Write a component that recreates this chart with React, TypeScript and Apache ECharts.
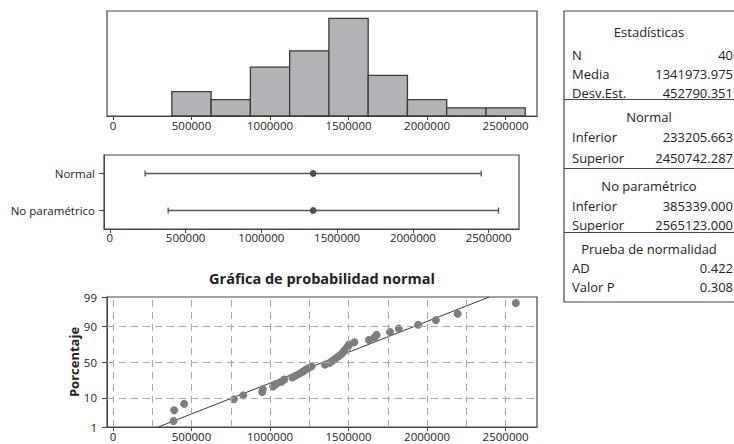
import React, { useEffect, useRef } from "react";
import * as echarts from "echarts";

// ---------- data ----------
const histBinCenters = [500000, 750000, 1000000, 1250000, 1500000, 1750000, 2000000, 2250000, 2500000];
const histCounts = [3, 2, 6, 8, 12, 5, 2, 1, 1];
const histBinWidth = 250000;

const xTickValues = [0, 500000, 1000000, 1500000, 2000000, 2500000];
const xGridValues = [0, 250000, 500000, 750000, 1000000, 1250000, 1500000, 1750000, 2000000, 2250000, 2500000];

const intervalCategories = ["Normal", "No paramétrico"];
const intervalLower = [233205.663, 385339.0];
const intervalUpper = [2450742.287, 2565123.0];
const intervalCenter = [1341973.975, 1341973.975];

const sampleValues = [
  385339, 390000, 453000, 770000, 829000, 950000, 955000, 1019000, 1040000, 1072000,
  1090000, 1142000, 1165000, 1188000, 1209000, 1225000, 1245000, 1265000, 1350000, 1380000,
  1395000, 1410000, 1425000, 1440000, 1455000, 1465000, 1475000, 1485000, 1495000, 1503000,
  1537000, 1630000, 1664000, 1679000, 1764000, 1820000, 1944000, 2056000, 2195000, 2565123,
];
const fitMean = 1341973.975;
const fitStdDev = 452790.351;
const percentTicks = [1, 10, 50, 90, 99];
const percentGrid = [10, 50, 90];

const probTitle = "Gráfica de probabilidad normal";
const probYName = "Porcentaje";

const tableHeaders = ["Estadísticas", "Normal", "No paramétrico", "Prueba de normalidad"];
const tableLabels = [
  ["N", "Media", "Desv.Est."],
  ["Inferior", "Superior"],
  ["Inferior", "Superior"],
  ["AD", "Valor P"],
];
const tableValues = [
  ["40", "1341973.975", "452790.351"],
  ["233205.663", "2450742.287"],
  ["385339.000", "2565123.000"],
  ["0.422", "0.308"],
];

// ---------- helpers ----------
function probit(p: number): number {
  const a = [-39.69683028665376, 220.9460984245205, -275.9285104469687, 138.357751867269, -30.66479806614716, 2.506628277459239];
  const b = [-54.47609879822406, 161.5858368580409, -155.6989798598866, 66.80131188771972, -13.28068155288572];
  const c = [-0.007784894002430293, -0.3223964580411365, -2.400758277161838, -2.549732539343734, 4.374664141464968, 2.938163982698783];
  const d = [0.007784695709041462, 0.3224671290700398, 2.445134137142996, 3.754408661907416];
  const plow = 0.02425;
  const phigh = 1 - plow;
  if (p < plow) {
    const q = Math.sqrt(-2 * Math.log(p));
    return (((((c[0] * q + c[1]) * q + c[2]) * q + c[3]) * q + c[4]) * q + c[5]) / ((((d[0] * q + d[1]) * q + d[2]) * q + d[3]) * q + 1);
  }
  if (p > phigh) {
    const q = Math.sqrt(-2 * Math.log(1 - p));
    return -(((((c[0] * q + c[1]) * q + c[2]) * q + c[3]) * q + c[4]) * q + c[5]) / ((((d[0] * q + d[1]) * q + d[2]) * q + d[3]) * q + 1);
  }
  const q = p - 0.5;
  const r = q * q;
  return ((((((a[0] * r + a[1]) * r + a[2]) * r + a[3]) * r + a[4]) * r + a[5]) * q) / (((((b[0] * r + b[1]) * r + b[2]) * r + b[3]) * r + b[4]) * r + 1);
}

const FONT = "Open Sans";
const AXIS_COLOR = "#454545";
const LABEL_COLOR = "#222";

export default function App() {
  const ref = useRef<HTMLDivElement>(null);

  useEffect(() => {
    if (!ref.current) return;
    const chart = echarts.init(ref.current, undefined, { renderer: "svg" });

    const zMin = probit(percentTicks[0] / 100);
    const zMax = probit(percentTicks[percentTicks.length - 1] / 100);
    const zTicks = percentTicks.map((p) => probit(p / 100));
    const n = sampleValues.length;
    const probPoints = sampleValues.map((v, i) => [v, probit((i + 1 - 0.3) / (n + 0.4))]);
    const fitLine = [
      [fitMean + fitStdDev * zMin, zMin],
      [fitMean + fitStdDev * zMax, zMax],
    ];

    const xAxisBase = (gridIndex: number, margin: number) => ({
      type: "value",
      gridIndex,
      min: -38000,
      max: 2700000,
      axisLine: { show: true, onZero: false, lineStyle: { color: AXIS_COLOR, width: 1 } },
      axisTick: { show: true, customValues: xTickValues, length: 4, lineStyle: { color: AXIS_COLOR } },
      axisLabel: {
        customValues: xTickValues,
        margin,
        color: LABEL_COLOR,
        fontFamily: FONT,
        fontSize: 11.5,
        formatter: (v: number) => String(Math.round(v)),
      },
      splitLine: { show: false },
    });

    const dash = { color: "#a9a9a9", width: 1, type: [7, 5] };

    // table graphics
    const tableGraphics: any[] = [];
    const headerY = [32, 117, 186, 249];
    const rowYs = [
      [55, 74, 92.5],
      [137, 158],
      [205.5, 224.5],
      [268, 287],
    ];
    const sepY = [99.5, 168.5, 232.5];
    tableGraphics.push({
      type: "rect",
      shape: { x: 564, y: 11, width: 190, height: 291 },
      style: { fill: "none", stroke: "#444", lineWidth: 1.2 },
    });
    sepY.forEach((y) =>
      tableGraphics.push({
        type: "line",
        shape: { x1: 564, y1: y, x2: 740, y2: y },
        style: { stroke: "#444", lineWidth: 1.2 },
      })
    );
    const tFont = `13px '${FONT}'`;
    tableHeaders.forEach((h, s) => {
      tableGraphics.push({
        type: "text",
        x: 649,
        y: headerY[s],
        style: { text: h, font: tFont, fill: "#222", align: "center", verticalAlign: "middle" },
      });
      tableLabels[s].forEach((lab, r) => {
        tableGraphics.push({
          type: "text",
          x: 572,
          y: rowYs[s][r],
          style: { text: lab, font: tFont, fill: "#222", align: "left", verticalAlign: "middle" },
        });
        tableGraphics.push({
          type: "text",
          x: 733,
          y: rowYs[s][r],
          style: { text: tableValues[s][r], font: tFont, fill: "#222", align: "right", verticalAlign: "middle" },
        });
      });
    });

    const option: any = {
      animation: false,
      backgroundColor: "#ffffff",
      grid: [
        { left: 107, top: 11, width: 430, height: 105, show: true, borderColor: AXIS_COLOR, borderWidth: 1.2, backgroundColor: "transparent" },
        { left: 104, top: 155, width: 415, height: 74, show: true, borderColor: AXIS_COLOR, borderWidth: 1.2, backgroundColor: "transparent" },
        { left: 107, top: 297, width: 430, height: 130, show: true, borderColor: AXIS_COLOR, borderWidth: 1.2, backgroundColor: "transparent" },
      ],
      xAxis: [xAxisBase(0, 3), xAxisBase(1, 2), xAxisBase(2, 3)],
      yAxis: [
        { type: "value", gridIndex: 0, min: 0, max: 12.9, show: false, axisLine: { onZero: false } },
        {
          type: "category",
          gridIndex: 1,
          data: intervalCategories,
          inverse: true,
          axisLine: { show: true, onZero: false, lineStyle: { color: AXIS_COLOR } },
          axisTick: { show: true, alignWithLabel: true, length: 5, lineStyle: { color: AXIS_COLOR } },
          axisLabel: { margin: 9, color: LABEL_COLOR, fontFamily: FONT, fontSize: 11.5 },
          splitLine: { show: false },
        },
        {
          type: "value",
          gridIndex: 2,
          min: zMin,
          max: zMax,
          name: probYName,
          nameLocation: "middle",
          nameGap: 27,
          nameMoveOverlap: false,
          nameTextStyle: { fontFamily: FONT, fontSize: 13, fontWeight: "bold", color: "#222" },
          axisLine: { show: true, onZero: false, lineStyle: { color: AXIS_COLOR } },
          axisTick: { show: true, customValues: zTicks, length: 5, lineStyle: { color: AXIS_COLOR } },
          axisLabel: {
            customValues: zTicks,
            margin: 10,
            color: LABEL_COLOR,
            fontFamily: FONT,
            fontSize: 11.5,
            formatter: (v: number) => {
              let best = percentTicks[0];
              let bd = Infinity;
              percentTicks.forEach((p) => {
                const dd = Math.abs(probit(p / 100) - v);
                if (dd < bd) {
                  bd = dd;
                  best = p;
                }
              });
              return String(best);
            },
          },
          splitLine: { show: false },
        },
      ],
      graphic: [
        {
          type: "text",
          x: 322,
          y: 278,
          style: { text: probTitle, font: `bold 14.5px '${FONT}'`, fill: "#222", align: "center", verticalAlign: "middle" },
        },
        ...tableGraphics,
      ],
      series: [
        {
          type: "custom",
          xAxisIndex: 0,
          yAxisIndex: 0,
          data: histBinCenters.map((c, i) => [c, histCounts[i]]),
          encode: { x: 0, y: 1 },
          renderItem: (params: any, api: any) => {
            const c = api.value(0);
            const h = api.value(1);
            const p1 = api.coord([c - histBinWidth / 2, h]);
            const p2 = api.coord([c + histBinWidth / 2, 0]);
            return {
              type: "rect",
              shape: { x: p1[0], y: p1[1], width: p2[0] - p1[0], height: p2[1] - p1[1] },
              style: { fill: "#b3b3b7", stroke: "#3a3a3a", lineWidth: 1.3 },
            };
          },
        },
        {
          type: "custom",
          xAxisIndex: 1,
          yAxisIndex: 1,
          data: intervalCategories.map((_, i) => [intervalLower[i], intervalUpper[i], intervalCenter[i], i]),
          encode: { x: [0, 1, 2], y: 3 },
          renderItem: (params: any, api: any) => {
            const row = api.value(3);
            const lo = api.coord([api.value(0), row]);
            const hi = api.coord([api.value(1), row]);
            const mid = api.coord([api.value(2), row]);
            const st = { stroke: "#555", lineWidth: 1.3 };
            return {
              type: "group",
              children: [
                { type: "line", shape: { x1: lo[0], y1: lo[1], x2: hi[0], y2: hi[1] }, style: st },
                { type: "line", shape: { x1: lo[0], y1: lo[1] - 3, x2: lo[0], y2: lo[1] + 3 }, style: st },
                { type: "line", shape: { x1: hi[0], y1: hi[1] - 3, x2: hi[0], y2: hi[1] + 3 }, style: st },
                { type: "circle", shape: { cx: mid[0], cy: mid[1], r: 3.4 }, style: { fill: "#505050" } },
              ],
            };
          },
        },
        {
          type: "line",
          xAxisIndex: 2,
          yAxisIndex: 2,
          data: [],
          silent: true,
          markLine: {
            silent: true,
            symbol: "none",
            label: { show: false },
            lineStyle: dash,
            data: [
              ...xGridValues.map((v) => ({ xAxis: v })),
              ...percentGrid.map((p) => ({ yAxis: probit(p / 100) })),
            ],
          },
        },
        {
          type: "line",
          xAxisIndex: 2,
          yAxisIndex: 2,
          data: fitLine,
          symbol: "none",
          lineStyle: { color: "#3a3a3a", width: 1 },
          z: 3,
        },
        {
          type: "scatter",
          xAxisIndex: 2,
          yAxisIndex: 2,
          data: probPoints,
          symbolSize: 8,
          itemStyle: { color: "#7d7d7d", opacity: 1 },
          z: 4,
        },
      ],
    };

    chart.setOption(option);
    return () => chart.dispose();
  }, []);

  return (
    <div
      ref={ref}
      style={{ position: "fixed", left: 0, top: 0, width: 734, height: 444, background: "#fff" }}
    />
  );
}
